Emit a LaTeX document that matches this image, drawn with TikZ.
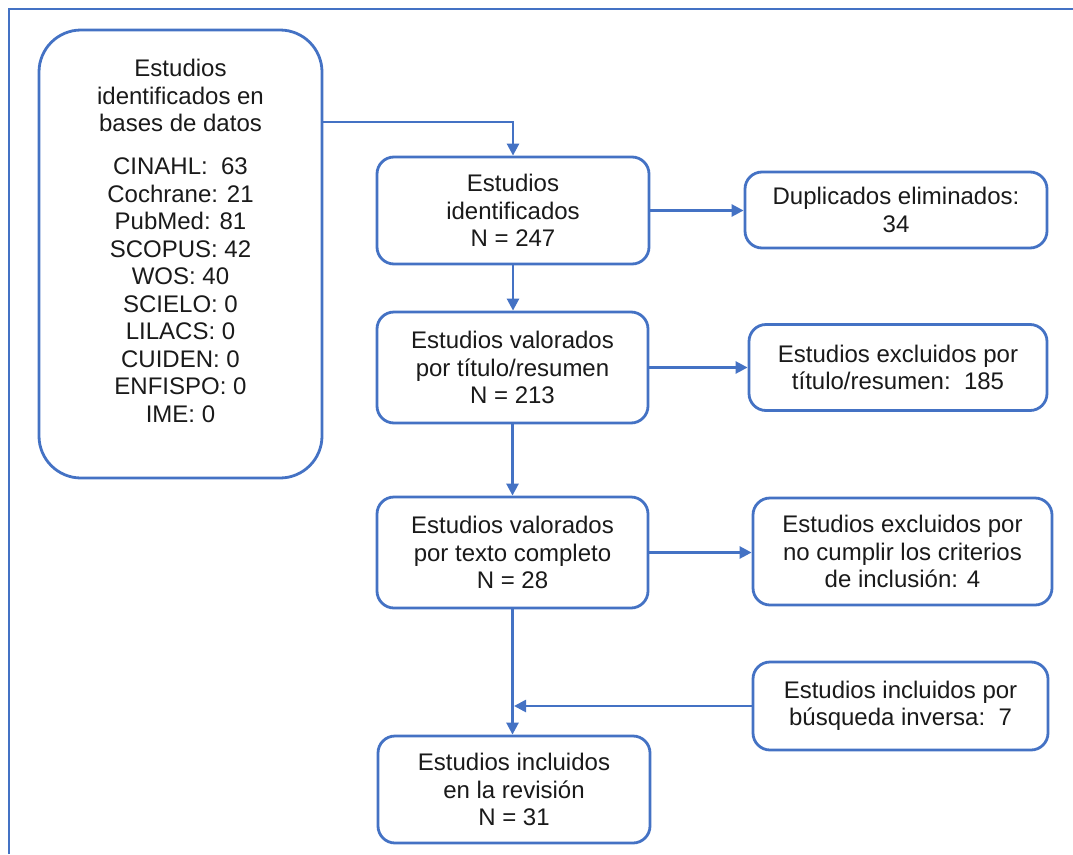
\documentclass[tikz,border=0pt]{standalone}
\usepackage{fontspec}
\setmainfont{Liberation Sans}
\usetikzlibrary{arrows.meta,calc}
\definecolor{flowblue}{RGB}{68,114,196}
\definecolor{inkgray}{RGB}{26,26,26}
\begin{document}
\begin{tikzpicture}[x=1pt,y=-1pt,
  every node/.style={font=\fontsize{24}{27.5}\selectfont, text=inkgray},
  stepbox/.style={draw=flowblue, line width=2.8pt, rounded corners=17pt,
    align=center, inner sep=0pt, fill=white},
  plainlabel/.style={align=center, inner sep=0pt},
  arr/.style={draw=flowblue, line width=2.6pt,
    -{Triangle[length=12pt,width=12pt]}},
  lnk/.style={draw=flowblue, line width=2.6pt}]
\useasboundingbox (0,0) rectangle (1073,854);

% outer frame (open towards the right and bottom)
\draw[flowblue, line width=1.6pt] (9,854) -- (9,9) -- (1073,9);

% database box
\node[stepbox, rounded corners=42pt, minimum width=283pt, minimum height=448pt]
  (A) at (180.5,254) {};
\node[plainlabel] (Atext) at (180.5,241)
  {Estudios\\identificados en\\bases de datos\\[15.5pt]
   CINAHL:\ \ 63\\Cochrane: 21\\PubMed: 81\\SCOPUS:\ 42\\WOS: 40\\
   SCIELO: 0\\LILACS:\ 0\\CUIDEN:\ 0\\ENFISPO:\ 0\\IME: 0};

% main column
\node[stepbox, minimum width=272pt, minimum height=107pt] (B) at (513,210.5)
  {Estudios\\identificados\\N = 247};
\node[stepbox, minimum width=271pt, minimum height=111pt] (D) at (512.5,367.5)
  {Estudios valorados\\por título/resumen\\N = 213};
\node[stepbox, minimum width=271pt, minimum height=111pt] (F) at (512.5,552.5)
  {Estudios valorados\\por texto completo\\N = 28};
\node[stepbox, minimum width=272pt, minimum height=107pt] (I) at (514,789.5)
  {Estudios incluidos\\en la revisión\\N = 31};

% side column
\node[stepbox, minimum width=302pt, minimum height=76pt] (C) at (896,210)
  {Duplicados eliminados:\\34};
\node[stepbox, minimum width=298pt, minimum height=86pt] (E) at (898,367.5)
  {Estudios excluidos por\\título/resumen:\ \ 185};
\node[stepbox, minimum width=299pt, minimum height=107pt] (G) at (902.5,551.5)
  {Estudios excluidos por\\no cumplir los criterios\\de inclusión: 4};
\node[stepbox, minimum width=295pt, minimum height=88pt] (H) at (900.5,706)
  {Estudios incluidos por\\búsqueda inversa:\ \ 7};

% connectors
\coordinate (j1) at (513,122);
\draw[arr] (j1 -| A.east) -- (j1) -- (B.north);
\draw[arr] (B.east) -- (B.east -| C.west);
\draw[arr] (B.south) -- (B.south |- D.north);
\draw[arr] (D.east) -- (D.east -| E.west);
\draw[arr] (D.south) -- (D.south |- F.north);
\draw[arr] (F.east) -- (F.east -| G.west);
\draw[arr] (F.south) -- (F.south |- I.north);
\coordinate (j2) at ($(F.south |- H.west)+(1.5,0)$);
\draw[arr] (H.west) -- (j2);
\end{tikzpicture}
\end{document}
